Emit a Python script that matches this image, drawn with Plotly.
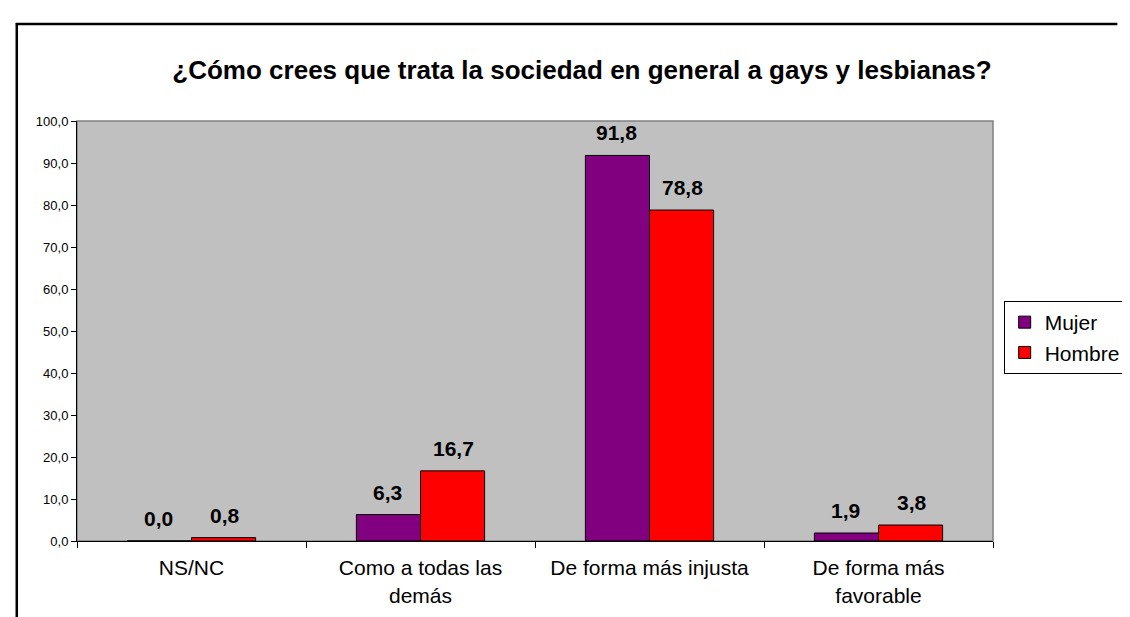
import plotly.graph_objects as go

categories = ["NS/NC", "Como a todas las<br>demás", "De forma más injusta", "De forma más<br>favorable"]
mujer = [0.0, 6.3, 91.8, 1.9]
hombre = [0.8, 16.7, 78.8, 3.8]
series_names = ["Mujer", "Hombre"]
title_text = "¿Cómo crees que trata la sociedad en general a gays y lesbianas?"

FONT = "Liberation Sans, Arial, sans-serif"
W, H = 1130, 617
L, R, T, B = 69, 1012, 113, 533

def px_x(p):
    return (p - L) / (R - L)

def px_y(p):
    return (B - p) / (B - T)

def fmt(v):
    return f"{v:.1f}".replace(".", ",")

fig = go.Figure()
fig.add_trace(go.Bar(name=series_names[0], x=categories, y=mujer,
                     marker=dict(color="#800080", line=dict(color="#000000", width=1))))
fig.add_trace(go.Bar(name=series_names[1], x=categories, y=hombre,
                     marker=dict(color="#FF0000", line=dict(color="#000000", width=1))))

annotations = []
for vals, shift in ((mujer, -33), (hombre, 33)):
    for c, v in zip(categories, vals):
        annotations.append(dict(x=c, y=v, xref="x", yref="y", text=f"<b>{fmt(v)}</b>",
                                showarrow=False, xshift=shift, yshift=9, yanchor="bottom",
                                font=dict(family=FONT, size=21, color="#000000")))

shapes = [
    # plot area border (gray)
    dict(type="rect", xref="paper", yref="paper", x0=0, x1=1, y0=0, y1=1,
         line=dict(color="#808080", width=1.5), layer="below"),
    # outer chart frame (black), cut at image edges
    dict(type="line", xref="paper", yref="paper", x0=px_x(6), x1=px_x(1140), y0=px_y(16), y1=px_y(16),
         line=dict(color="#000000", width=2.5)),
    dict(type="line", xref="paper", yref="paper", x0=px_x(7), x1=px_x(7), y0=px_y(15), y1=px_y(625),
         line=dict(color="#000000", width=2.5)),
]

fig.update_layout(
    width=W, height=H,
    margin=dict(l=L, r=W - R, t=T, b=H - B, pad=0),
    paper_bgcolor="#FFFFFF", plot_bgcolor="#C0C0C0",
    separators=",.",
    barmode="group", bargap=0.44, bargroupgap=0,
    font=dict(family=FONT, color="#000000"),
    title=dict(text=f"<b>{title_text}</b>", x=574 / W, xref="container", xanchor="center",
               y=1 - 62 / H, yref="container", yanchor="middle",
               font=dict(family=FONT, size=26, color="#000000")),
    legend=dict(x=px_x(1023), y=px_y(293), xanchor="left", yanchor="top",
                bordercolor="#000000", borderwidth=1, bgcolor="#FFFFFF",
                font=dict(family=FONT, size=21, color="#000000"),
                tracegroupgap=0, itemwidth=30),
    annotations=annotations,
    shapes=shapes,
    showlegend=True,
)
fig.update_yaxes(range=[0, 100], dtick=10, tickformat=".1f", showgrid=False, zeroline=False,
                 showline=True, linecolor="#000000", linewidth=1,
                 ticks="outside", ticklen=5, tickcolor="#000000",
                 tickfont=dict(family=FONT, size=13, color="#000000"))
fig.update_xaxes(showgrid=False, showline=True, linecolor="#000000", linewidth=1,
                 ticks="outside", ticklen=6, tickcolor="#000000", tickson="boundaries",
                 ticklabelstandoff=8,
                 tickfont=dict(family=FONT, size=21, color="#000000"))

fig.write_html("out.html")
